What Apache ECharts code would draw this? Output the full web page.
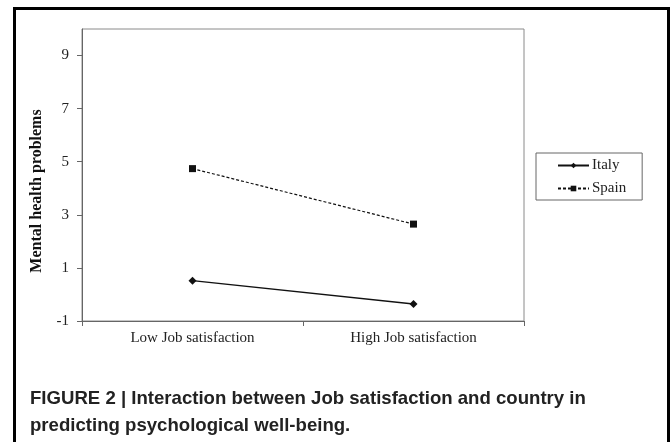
<!DOCTYPE html>
<html>
<head>
<meta charset="utf-8">
<script src="https://cdn.jsdelivr.net/npm/echarts@6/dist/echarts.min.js"></script>
<style>
html,body{margin:0;padding:0;background:#fff;}
#c{width:672px;height:442px;}
</style>
</head>
<body>
<div id="c"></div>
<script>
const categories = ['Low Job satisfaction', 'High Job satisfaction'];
const italy = [0.52, -0.36];
const spain = [4.74, 2.65];
const yTicks = [-1, 1, 3, 5, 7, 9];
const yTitle = 'Mental health problems';
const caption = 'FIGURE 2 | Interaction between Job satisfaction and country in\npredicting psychological well-being.';

const serif = '"Liberation Serif", "Times New Roman", serif';
const chart = echarts.init(document.getElementById('c'), null, {renderer: 'canvas'});
chart.setOption({
  animation: false,
  backgroundColor: '#fff',
  title: {
    text: caption,
    left: 25,
    top: 380,
    textStyle: {fontFamily: '"Liberation Sans", Arial, sans-serif', fontWeight: 'bold', fontSize: 18.6, lineHeight: 27, color: '#222'}
  },
  graphic: [{
    type: 'rect', left: 12, top: 6, silent: true,
    shape: {width: 654, height: 460},
    style: {fill: 'none', stroke: '#000', lineWidth: 3}
  }],
  legend: {
    orient: 'vertical',
    left: 536, top: 153,
    data: ['Italy', 'Spain'],
    itemWidth: 31, itemHeight: 7, itemGap: 8,
    padding: [5, 16, 4, 21],
    borderColor: '#666', borderWidth: 1,
    textStyle: {fontFamily: serif, fontSize: 15, color: '#222', padding: [0, 0, 0, -2]}
  },
  grid: {left: 82, right: 148, top: 29, bottom: 121, show: true, borderColor: '#8a8a8a', borderWidth: 1, containLabel: false},
  xAxis: {
    type: 'category', data: categories, boundaryGap: true,
    axisLine: {onZero: false, lineStyle: {color: '#666', width: 1}},
    axisTick: {show: true, length: 5, inside: false, lineStyle: {color: '#666'}},
    axisLabel: {fontFamily: serif, fontSize: 15, color: '#222', margin: 10}
  },
  yAxis: {
    type: 'value', min: -1, max: 10, interval: 1,
    name: yTitle, nameLocation: 'middle', nameGap: 37, nameRotate: 90,
    nameTextStyle: {fontFamily: serif, fontSize: 16, fontWeight: 'bold', color: '#111', padding: [0, 32, 0, 0]},
    axisLine: {show: true, lineStyle: {color: '#666', width: 1}},
    axisTick: {show: true, length: 5, customValues: yTicks, lineStyle: {color: '#666'}},
    axisLabel: {fontFamily: serif, fontSize: 15, color: '#222', margin: 13, customValues: yTicks},
    splitLine: {show: false}
  },
  series: [{
    name: 'Italy', type: 'line', data: italy,
    symbol: 'diamond', symbolSize: 8,
    lineStyle: {color: '#111', width: 1.3, type: 'solid'},
    itemStyle: {color: '#111'}
  }, {
    name: 'Spain', type: 'line', data: spain,
    symbol: 'rect', symbolSize: 7,
    lineStyle: {color: '#111', width: 1.2, type: [3, 2]},
    itemStyle: {color: '#111'}
  }]
});
</script>
</body>
</html>
